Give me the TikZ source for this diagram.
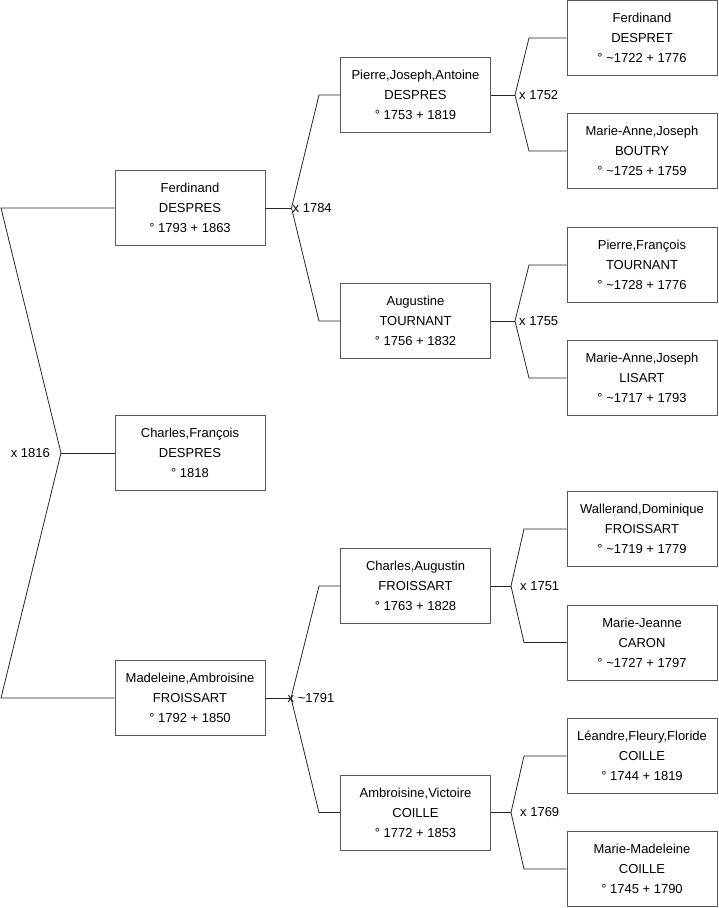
\documentclass[tikz,border=0pt]{standalone}
\usepackage{fontspec}
\setmainfont{Liberation Sans}
\newcommand{\tl}{\textasciitilde}
\begin{document}
\begin{tikzpicture}[x=1pt,y=-1pt,
  person/.style={draw=black!65, line width=0.9pt, minimum width=150pt, minimum height=75pt,
    inner sep=0pt, align=center, font=\fontsize{13}{20}\selectfont, fill=white},
  link/.style={draw=black!85, line width=0.8pt},
  mar/.style={inner sep=0pt, font=\fontsize{13}{16}\selectfont}]
\useasboundingbox (0,0) rectangle (719,908);
% generation 1
\node[person] (A) at (190,208) {Ferdinand\\DESPRES\\° 1793 + 1863};
\node[person] (C) at (190,453) {Charles,François\\DESPRES\\° 1818};
\node[person] (M) at (190,698) {Madeleine,Ambroisine\\FROISSART\\° 1792 + 1850};
% generation 2
\node[person] (P) at (415.5,95) {Pierre,Joseph,Antoine\\DESPRES\\° 1753 + 1819};
\node[person] (Au) at (415.5,321) {Augustine\\TOURNANT\\° 1756 + 1832};
\node[person] (CA) at (415.5,586) {Charles,Augustin\\FROISSART\\° 1763 + 1828};
\node[person] (AV) at (415.5,812.5) {Ambroisine,Victoire\\COILLE\\° 1772 + 1853};
% generation 3
\node[person] (G1) at (642,38) {Ferdinand\\DESPRET\\° \tl1722 + 1776};
\node[person] (G2) at (642,151) {Marie-Anne,Joseph\\BOUTRY\\° \tl1725 + 1759};
\node[person] (G3) at (642,265) {Pierre,François\\TOURNANT\\° \tl1728 + 1776};
\node[person] (G4) at (642,378) {Marie-Anne,Joseph\\LISART\\° \tl1717 + 1793};
\node[person] (G5) at (642,529) {Wallerand,Dominique\\FROISSART\\° \tl1719 + 1779};
\node[person] (G6) at (642,642.5) {Marie-Jeanne\\CARON\\° \tl1727 + 1797};
\node[person] (G7) at (642,756) {Léandre,Fleury,Floride\\COILLE\\° 1744 + 1819};
\node[person] (G8) at (642,869) {Marie-Madeleine\\COILLE\\° 1745 + 1790};
% fork coordinates
\coordinate (v0) at (61,453); \coordinate (t0) at (1,208); \coordinate (b0) at (1,698);
\coordinate (v1) at (291.5,208); \coordinate (t1) at (319,95); \coordinate (b1) at (319,321);
\coordinate (v2) at (291,698); \coordinate (t2) at (319,586); \coordinate (b2) at (319,812.5);
\coordinate (v3) at (515,95); \coordinate (t3) at (529,38); \coordinate (b3) at (529,151);
\coordinate (v4) at (515,321); \coordinate (t4) at (529,265); \coordinate (b4) at (529,378);
\coordinate (v5) at (511,586); \coordinate (t5) at (524,529); \coordinate (b5) at (524,642.5);
\coordinate (v6) at (511,812.5); \coordinate (t6) at (524,756); \coordinate (b6) at (524,869);
% connectors
\draw[link] (A.west) -- (t0) -- (v0) -- (b0) -- (M.west);
\draw[link] (v0) -- (C.west);
\draw[link] (A.east) -- (v1); \draw[link] (P.west) -- (t1) -- (v1) -- (b1) -- (Au.west);
\draw[link] (M.east) -- (v2); \draw[link] (CA.west) -- (t2) -- (v2) -- (b2) -- (AV.west);
\draw[link] (P.east) -- (v3); \draw[link] (G1.west) -- (t3) -- (v3) -- (b3) -- (G2.west);
\draw[link] (Au.east) -- (v4); \draw[link] (G3.west) -- (t4) -- (v4) -- (b4) -- (G4.west);
\draw[link] (CA.east) -- (v5); \draw[link] (G5.west) -- (t5) -- (v5) -- (b5) -- (G6.west);
\draw[link] (AV.east) -- (v6); \draw[link] (G7.west) -- (t6) -- (v6) -- (b6) -- (G8.west);
% marriage labels
\node[mar, anchor=east] (m0) at (50,453) {x 1816};
\node[mar, anchor=west] (m1) at (292.5,208) {x 1784};
\node[mar, anchor=west] (m2) at (287.5,698) {x \tl1791};
\node[mar, anchor=west] (m3) at (519,95) {x 1752};
\node[mar, anchor=west] (m4) at (519,321) {x 1755};
\node[mar, anchor=west] (m5) at (520,586) {x 1751};
\node[mar, anchor=west] (m6) at (520,812.5) {x 1769};
\end{tikzpicture}
\end{document}
